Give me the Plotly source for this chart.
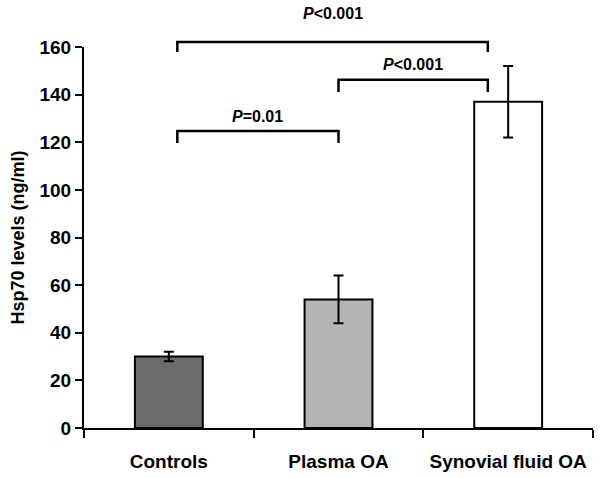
import plotly.graph_objects as go

categories = ["Controls", "Plasma OA", "Synovial fluid OA"]
means = [30, 54, 137]
errors = [2, 10, 15]
bar_colors = ["#6b6b6b", "#b4b4b4", "#ffffff"]

# significance brackets: (x_left, x_right, y_top, y_drop, label, label_gap_px)
brackets = [
    (0.05, 1.0, 124.7, 119.7, "<b><i>P</i>=0.01</b>", 4),
    (1.0, 1.88, 146.2, 141.1, "<b><i>P</i>&lt;0.001</b>", 5),
    (0.05, 1.88, 162.1, 157.9, "<b><i>P</i>&lt;0.001</b>", 18),
]
y_ticks = [0, 20, 40, 60, 80, 100, 120, 140, 160]
y_max = 160

fig = go.Figure()
fig.add_trace(go.Bar(
    x=categories, y=means,
    marker=dict(color=bar_colors, line=dict(color="black", width=2)),
    width=0.4,
    error_y=dict(type="data", array=errors, color="black", thickness=2, width=5),
))

def py(v):
    return v / y_max

for x0, x1, yt, yd, lab, gap in brackets:
    fig.add_shape(type="path", xref="x", yref="paper",
                  path=f"M {x0},{py(yd)} L {x0},{py(yt)} L {x1},{py(yt)} L {x1},{py(yd)}",
                  line=dict(color="black", width=2.5))
    fig.add_annotation(x=(x0 + x1) / 2, y=py(yt), xref="x", yref="paper",
                       text=lab, showarrow=False, yanchor="bottom", yshift=gap,
                       font=dict(size=16, color="black", family="Liberation Sans, Arial"))

fig.update_layout(
    width=602, height=478,
    margin=dict(l=84, r=9, t=47, b=50),
    plot_bgcolor="white", paper_bgcolor="white",
    showlegend=False,
    font=dict(family="Liberation Sans, Arial", color="black"),
    xaxis=dict(
        type="category", range=[-0.5, 2.5], automargin=False,
        showline=True, linecolor="black", linewidth=2,
        ticks="outside", tickson="boundaries", ticklen=8, tickwidth=2, tickcolor="black",
        tickfont=dict(size=19, family="Liberation Sans, Arial"),
        ticklabelstandoff=15,
        tickvals=categories, ticktext=[f"<b>{c}</b>" for c in categories],
        showgrid=False, zeroline=False,
    ),
    yaxis=dict(
        range=[0, y_max], tickvals=y_ticks, automargin=False,
        ticktext=[f"<b>{v}</b>" for v in y_ticks],
        showline=True, linecolor="black", linewidth=2,
        ticks="outside", ticklen=7, tickwidth=2, tickcolor="black",
        tickfont=dict(size=19, family="Liberation Sans, Arial"),
        title=dict(text="<b>Hsp70 levels (ng/ml)</b>", font=dict(size=18), standoff=10),
        showgrid=False, zeroline=False,
    ),
)

fig.write_html("out.html", config={"displayModeBar": False},
               post_script="document.body.style.margin='0';")
